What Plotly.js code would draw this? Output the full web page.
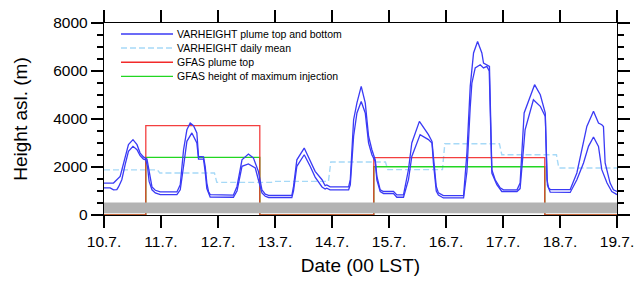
<!DOCTYPE html>
<html>
<head>
<meta charset="utf-8">
<script src="https://cdn.plot.ly/plotly-3.0.1.min.js"></script>
<style>html,body{margin:0;padding:0;background:#fff;}#chart{width:635px;height:281px;}</style>
</head>
<body>
<div id="chart"></div>
<script>
// ---- data (hours since 10.7. 00 LST) ----
const dayLabels = ['10.7.','11.7.','12.7.','13.7.','14.7.','15.7.','16.7.','17.7.','18.7.','19.7.'];

const topHours = [0, 4.0, 6.8, 8.9, 10.3, 12.2, 13.9, 15.2, 16.6, 18.1, 18.7, 19.5, 20.2, 21.6, 23.7,
  30.7, 32.1, 33.5, 34.9, 36.3, 37.7, 39.1, 39.8, 41.9, 42.6, 43.3, 44.0, 44.7,
  54.5, 56.0, 58.1, 60.8, 62.9, 63.7, 65.0, 66.5, 67.9, 69.3,
  79.1, 79.8, 81.2, 84.3, 86.8, 88.9, 91.8, 93.1, 93.8, 95.2,
  103.0, 103.7, 105.1, 106.5, 108.3, 110.0, 111.4, 112.8, 114.2, 114.9, 116.3, 117.7,
  121.9, 123.3, 126.1, 128.2, 129.6, 132.8, 136.6, 138.1, 138.7, 139.9, 140.8, 142.9,
  151.4, 152.8, 154.2, 155.6, 157.3, 159.1, 159.8, 161.2, 162.3, 163.3, 164.7, 166.8, 168.2,
  173.9, 175.2, 176.9, 181.3, 183.7, 185.8, 186.5, 187.2, 187.9,
  196.3, 199.1, 201.9, 203.3, 206.1, 208.2, 209.6, 210.3, 211.0, 213.1, 214.5, 216];
const topHeight = [1330, 1330, 1610, 2440, 2930, 3140, 2930, 2580, 2420, 2330, 2030, 1470, 1170, 1030, 960,
  960, 1260, 2720, 3550, 3830, 3720, 3420, 2440, 2420, 2030, 1330, 980, 850,
  830, 1190, 2300, 2540, 2380, 2170, 1820, 1050, 870, 820,
  820, 1190, 2300, 2790, 2230, 1820, 1470, 1220, 1250, 1170,
  1170, 1470, 3970, 4670, 5360, 4670, 3280, 2720, 2300, 1610, 1050, 980,
  980, 840, 840, 1890, 3000, 3900, 3350, 3070, 2440, 1190, 920, 810,
  810, 2580, 5360, 6750, 7230, 6750, 6330, 6260, 6190, 1890, 1470, 1130, 1050,
  1050, 1330, 4250, 5430, 5010, 4250, 1470, 1130, 1060,
  1060, 1750, 3000, 3690, 4320, 3830, 3760, 3690, 2170, 1330, 1050, 980];

const botHours = [0, 2.6, 4.0, 5.4, 6.1, 7.5, 8.9, 10.3, 12.2, 13.9, 15.2, 16.6, 17.6, 18.3, 19.0, 20.2, 21.6, 23.7,
  30.7, 32.1, 33.5, 34.9, 37.0, 39.1, 39.8, 41.9, 42.6, 43.3, 44.7,
  54.5, 56.0, 58.1, 60.8, 63.7, 65.0, 66.5, 67.9, 69.3,
  79.1, 79.8, 81.2, 84.3, 86.8, 88.9, 91.8, 93.1, 93.8, 95.2,
  103.0, 103.7, 105.1, 106.5, 108.3, 110.0, 111.4, 112.8, 114.2, 114.9, 116.3, 117.7,
  121.9, 123.3, 126.1, 128.2, 129.6, 133.1, 136.6, 138.1, 138.7, 139.9, 140.8, 142.9,
  151.4, 152.8, 154.2, 154.9, 156.3, 158.4, 159.8, 161.2, 162.2, 163.3, 165.4, 167.5,
  173.9, 175.2, 177.3, 180.8, 183.7, 185.8, 186.7, 187.9,
  196.3, 199.1, 201.9, 204.0, 206.1, 208.2, 209.6, 211.8, 213.8, 216];
const botHeight = [1130, 1130, 1050, 1060, 1170, 1470, 2100, 2650, 2860, 2720, 2470, 2330, 2300, 2030, 1400, 1050, 920, 850,
  850, 1050, 2030, 3070, 3420, 3000, 2330, 2330, 1800, 1100, 750,
  740, 1000, 2030, 2130, 1960, 1470, 920, 780, 730,
  730, 1000, 2030, 2510, 2030, 1580, 1170, 1080, 1120, 1050,
  1050, 1260, 3280, 4250, 4730, 4250, 3000, 2510, 2230, 1450, 980, 890,
  890, 740, 740, 1470, 2440, 3350, 3140, 3000, 2170, 1000, 830, 710,
  710, 1800, 4500, 5500, 6130, 6260, 6130, 6190, 6000, 1750, 1260, 980,
  980, 1100, 3550, 4800, 4530, 4110, 1250, 950,
  940, 1470, 2170, 2860, 3250, 2860, 1890, 1330, 980, 850];

const dailyMean = [1880, 1750, 1360, 1400, 2210, 1890, 2970, 2510, 1960];

const gfasHours = [0, 17.6, 41.6, 65.6, 89.6, 113.6, 137.6, 161.6, 185.6, 216];
const gfasTop = [0, 3720, 3720, 0, 0, 2390, 2390, 2390, 0, 0];
const gfasInj = [0, 2400, 2400, 0, 0, 2010, 2010, 2010, 0, 0];

const legendLabels = ['VARHEIGHT plume top and bottom', 'VARHEIGHT daily mean', 'GFAS plume top', 'GFAS height of maximum injection'];
const groundLayer = [70, 520];

// ---- build ----
const nDays = dailyMean.length;
const meanX = [], meanY = [];
for (let d = 0; d < nDays; d++) {
  meanX.push(d === 0 ? 0 : 24 * d - 0.5); meanY.push(dailyMean[d]);
  meanX.push(d === nDays - 1 ? 24 * nDays : 24 * (d + 1) - 1.5); meanY.push(dailyMean[d]);
}

const BLUE = '#3a3af5', LBLUE = '#a6d9f7', RED = '#f22a2a', GREEN = '#22d622';
const FONT = 'Liberation Sans, Arial, Helvetica, sans-serif';

const traces = [
  {x: meanX, y: meanY, mode: 'lines', line: {color: LBLUE, width: 1.4, dash: '6px,3px'}, name: legendLabels[1]},
  {x: gfasHours, y: gfasInj, mode: 'lines', line: {color: GREEN, width: 1.3, shape: 'hv'}, name: legendLabels[3]},
  {x: gfasHours, y: gfasTop, mode: 'lines', line: {color: RED, width: 1.3, shape: 'hv'}, opacity: 0.9, name: legendLabels[2]},
  {x: topHours, y: topHeight, mode: 'lines', line: {color: BLUE, width: 1.3}, name: legendLabels[0]},
  {x: botHours, y: botHeight, mode: 'lines', line: {color: BLUE, width: 1.3}, name: legendLabels[0]}
];

const plotL = 104, plotR = 617, plotT = 23, plotB = 215;
const px = X => (X - plotL) / (plotR - plotL);
const py = Y => (plotB - Y) / (plotB - plotT);
const legColors = [BLUE, LBLUE, RED, GREEN];
const legDash = ['solid', '6px,3px', 'solid', 'solid'];
const legRows = [34, 48, 62.2, 76.4];
const shapes = [{type: 'rect', xref: 'paper', x0: 0, x1: 1, yref: 'y', y0: groundLayer[0], y1: groundLayer[1],
  fillcolor: '#b3b3b3', line: {width: 0}, layer: 'above'}];
const annotations = [];
legendLabels.forEach((lab, i) => {
  shapes.push({type: 'line', xref: 'paper', yref: 'paper', x0: px(121), x1: px(173), y0: py(legRows[i]), y1: py(legRows[i]),
    line: {color: legColors[i], width: 1.4, dash: legDash[i]}});
  annotations.push({xref: 'paper', yref: 'paper', x: px(175), y: py(legRows[i]), xanchor: 'left', yanchor: 'middle',
    text: lab, showarrow: false, font: {family: FONT, size: 10.5, color: '#000'}});
});

const layout = {
  width: 635, height: 281,
  margin: {l: plotL, r: 635 - plotR, t: plotT, b: 281 - plotB},
  paper_bgcolor: '#fff', plot_bgcolor: '#fff',
  showlegend: false,
  font: {family: FONT, color: '#000'},
  xaxis: {
    range: [0, 216], tickvals: dayLabels.map((_, i) => 24 * i), ticktext: dayLabels,
    ticks: 'outside', ticklen: 12, tickwidth: 1.2, tickcolor: '#000',
    showline: true, linecolor: '#000', linewidth: 1.2, mirror: 'ticks',
    showgrid: false, zeroline: false, tickfont: {size: 15.5, family: FONT},
    title: {text: 'Date (00 LST)', font: {size: 19, family: FONT}, standoff: 10}
  },
  yaxis: {
    range: [0, 8000], dtick: 2000, tick0: 0,
    ticks: 'outside', ticklen: 12, tickwidth: 1.2, tickcolor: '#000',
    minor: {dtick: 500, ticks: 'outside', ticklen: 6, tickwidth: 1.2, tickcolor: '#000', showgrid: false},
    showline: true, linecolor: '#000', linewidth: 1.2, mirror: 'ticks',
    showgrid: false, zeroline: false, tickfont: {size: 15.5, family: FONT},
    title: {text: 'Height asl. (m)', font: {size: 19, family: FONT}, standoff: 20}
  },
  shapes: shapes,
  annotations: annotations
};

Plotly.newPlot('chart', traces, layout, {staticPlot: true, displayModeBar: false});
</script>
</body>
</html>
